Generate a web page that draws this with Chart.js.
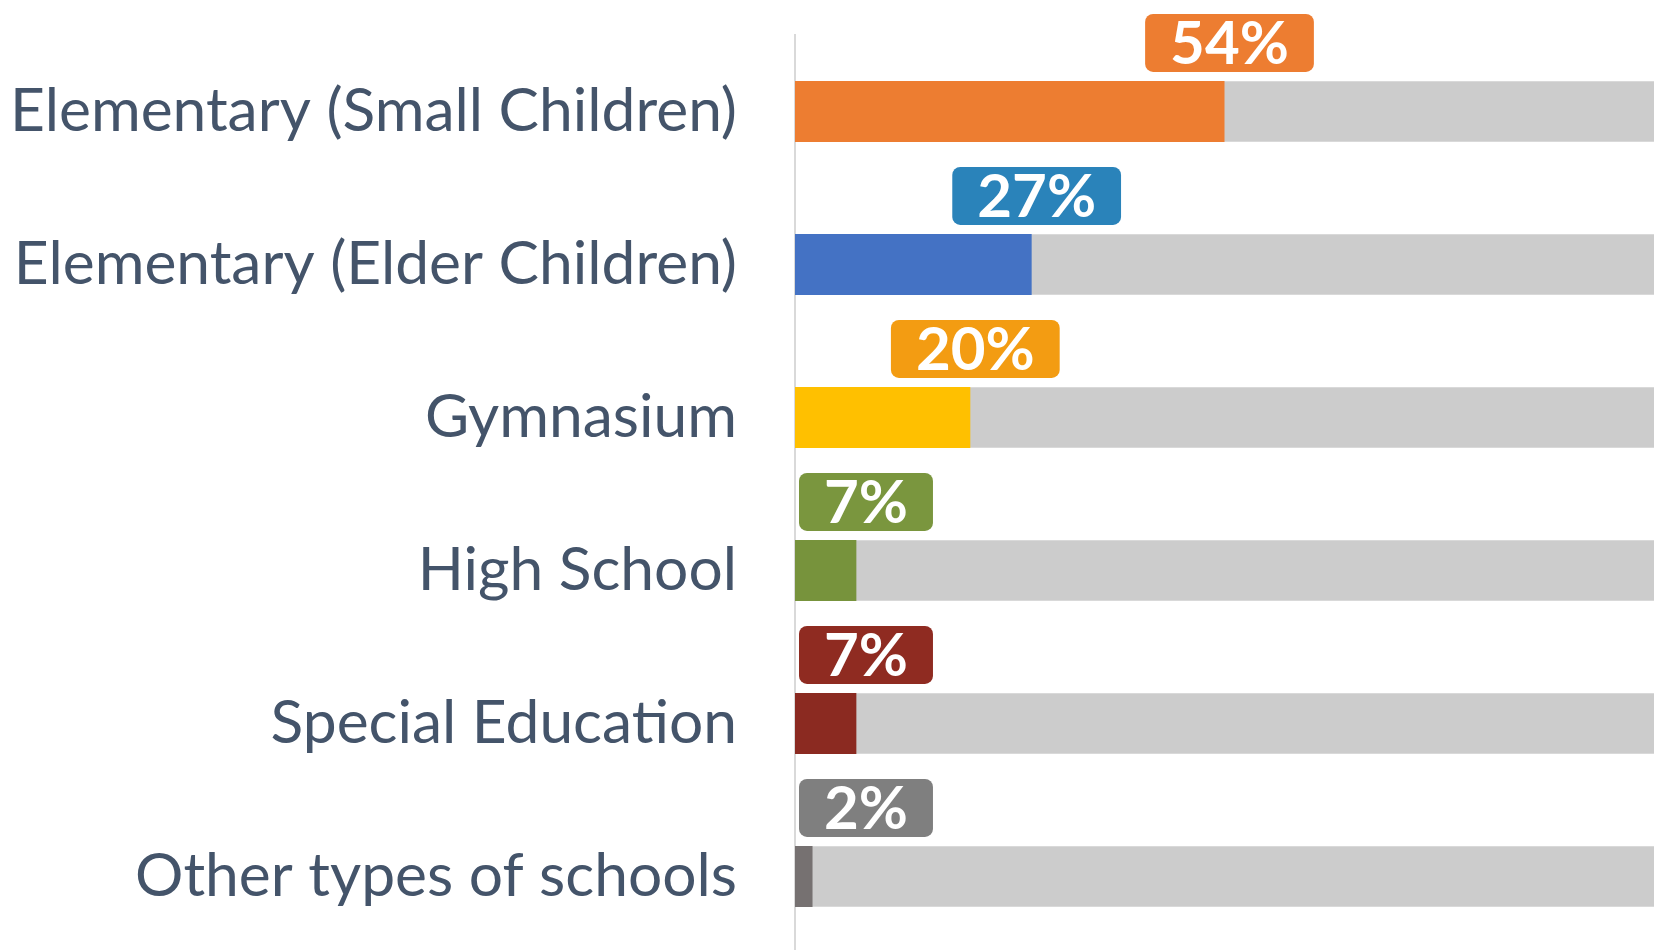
<!DOCTYPE html>
<html>
<head>
<meta charset="utf-8">
<script src="https://cdn.jsdelivr.net/npm/chart.js@4.4.1/dist/chart.umd.min.js"></script>
<style>
  html, body { margin: 0; padding: 0; background: #ffffff; overflow: hidden; }
  #wrap { width: 1654px; height: 950px; overflow: hidden; position: relative; }
  canvas { display: block; }
</style>
</head>
<body>
<div id="wrap"><canvas id="c" width="1654" height="953" style="width:1654px;height:953px"></canvas></div>
<script>
// ---- data ----
const categories = [
  "Elementary (Small Children)",
  "Elementary (Elder Children)",
  "Gymnasium",
  "High School",
  "Special Education",
  "Other types of schools"
];
const barValues = [49, 27, 20, 7, 7, 2];           // bar lengths as drawn
const valueLabels = ["54%", "27%", "20%", "7%", "7%", "2%"]; // printed labels
const trackValues = [100, 100, 100, 100, 100, 100];
const barColors = ["#ED7D31", "#4472C4", "#FFC000", "#77933C", "#8B2A21", "#767171"];
const labelColors = ["#ED7D31", "#2A83BA", "#F39C12", "#7A963E", "#8F2B21", "#7F7F7F"];

const LABEL_FONT = "Lato, 'Open Sans', sans-serif";

const badgePlugin = {
  id: 'badges',
  afterDatasetsDraw(chart) {
    const ctx = chart.ctx;
    const meta = chart.getDatasetMeta(0);
    const area = chart.chartArea;
    ctx.save();
    ctx.font = "bold 60px " + LABEL_FONT;
    meta.data.forEach((el, i) => {
      const txt = valueLabels[i];
      const tw = ctx.measureText(txt).width;
      const w = tw + 50;
      const h = 58;
      let cx = Math.max(el.x + 5, area.left + w / 2 + 4);
      const top = el.y - el.height / 2 - 9 - h;
      const left = cx - w / 2;
      ctx.fillStyle = labelColors[i];
      ctx.beginPath();
      ctx.roundRect(left, top, w, h, 8);
      ctx.fill();
      ctx.fillStyle = "#FFFFFF";
      ctx.textAlign = "center";
      ctx.textBaseline = "middle";
      ctx.fillText(txt, cx, top + h / 2 + 2);
    });
    ctx.restore();
  }
};

new Chart(document.getElementById('c'), {
  type: 'bar',
  data: {
    labels: categories,
    datasets: [
      {
        data: barValues,
        backgroundColor: barColors,
        borderWidth: 0,
        grouped: false,
        barPercentage: 0.4,
        categoryPercentage: 1.0
      },
      {
        data: trackValues,
        backgroundColor: "#CCCCCC",
        borderColor: "#D9D9D9",
        borderWidth: { top: 1, bottom: 1, left: 0, right: 0 },
        grouped: false,
        barPercentage: 0.4,
        categoryPercentage: 1.0
      }
    ]
  },
  options: {
    indexAxis: 'y',
    responsive: false,
    animation: false,
    layout: { padding: { top: 35, right: 0, bottom: 0, left: 0 } },
    plugins: { legend: { display: false }, tooltip: { enabled: false } },
    scales: {
      x: {
        display: false,
        min: 0,
        max: 98
      },
      y: {
        grid: { display: false, drawTicks: false },
        border: { display: true, color: "#D9D9D9", width: 2 },
        ticks: {
          color: "#44546A",
          font: { family: LABEL_FONT, size: 60.5 },
          padding: 58
        },
        afterFit(scale) {
          scale.width = 795;
          scale.paddingTop = 0;
          scale.paddingBottom = 0;
        }
      }
    }
  },
  plugins: [badgePlugin]
});
</script>
</body>
</html>
